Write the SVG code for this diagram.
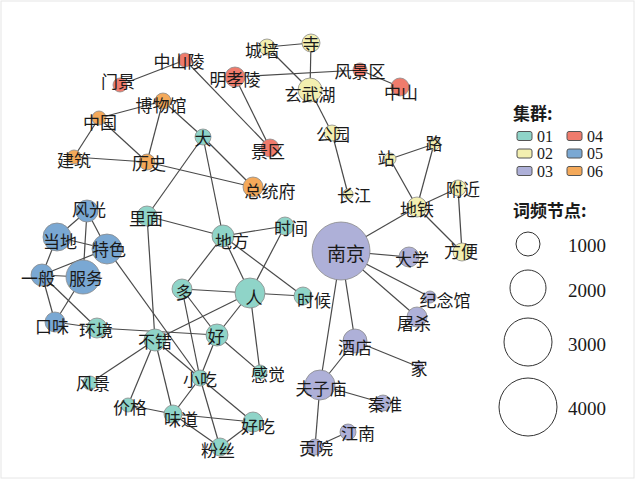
<svg xmlns="http://www.w3.org/2000/svg" width="640" height="480" viewBox="0 0 640 480">
<style>
.e{stroke:#4a4a4a;stroke-width:1.2;fill:none}
circle{stroke:#8a8a8a;stroke-width:0.8}
.c1{fill:#8fd4c8}.c2{fill:#f3efb0}.c3{fill:#aeb0d8}.c4{fill:#ef7b6c}.c5{fill:#7aa8d3}.c6{fill:#f4a95a}
text{font-family:"Noto Sans CJK SC","Noto Sans",sans-serif;font-size:17px;fill:#1a1a1a;text-anchor:middle;dominant-baseline:central}
.lg{text-anchor:start;font-weight:bold}
.num{font-family:"Liberation Serif",serif;font-size:19px;text-anchor:start}
.sn{font-size:16px}
.sw{stroke:#555;stroke-width:1}
.lc{fill:none;stroke:#333;stroke-width:1}
</style>
<rect x="1" y="1" width="633" height="477" fill="#fff" stroke="#e6e6e6"/>
<g id="edges">
<line class="e" x1="120" y1="85" x2="185" y2="60"/>
<line class="e" x1="185" y1="60" x2="270" y2="148"/>
<line class="e" x1="235" y1="77" x2="270" y2="148"/>
<line class="e" x1="235" y1="77" x2="360" y2="70"/>
<line class="e" x1="360" y1="70" x2="400" y2="87"/>
<line class="e" x1="267" y1="47" x2="311" y2="43"/>
<line class="e" x1="311" y1="43" x2="310" y2="90"/>
<line class="e" x1="267" y1="47" x2="310" y2="90"/>
<line class="e" x1="310" y1="90" x2="332" y2="133"/>
<line class="e" x1="332" y1="133" x2="348" y2="194"/>
<line class="e" x1="163" y1="101" x2="99" y2="118"/>
<line class="e" x1="163" y1="101" x2="147" y2="162"/>
<line class="e" x1="163" y1="101" x2="203" y2="137"/>
<line class="e" x1="99" y1="118" x2="74" y2="157"/>
<line class="e" x1="99" y1="118" x2="147" y2="162"/>
<line class="e" x1="74" y1="157" x2="147" y2="162"/>
<line class="e" x1="147" y1="162" x2="253" y2="187"/>
<line class="e" x1="203" y1="137" x2="253" y2="187"/>
<line class="e" x1="203" y1="137" x2="147" y2="216"/>
<line class="e" x1="203" y1="137" x2="223" y2="236"/>
<line class="e" x1="147" y1="216" x2="223" y2="236"/>
<line class="e" x1="147" y1="216" x2="155" y2="340"/>
<line class="e" x1="223" y1="236" x2="285" y2="226"/>
<line class="e" x1="223" y1="236" x2="182" y2="289"/>
<line class="e" x1="223" y1="236" x2="250" y2="293"/>
<line class="e" x1="223" y1="236" x2="303" y2="296"/>
<line class="e" x1="285" y1="226" x2="250" y2="293"/>
<line class="e" x1="250" y1="293" x2="303" y2="296"/>
<line class="e" x1="250" y1="293" x2="182" y2="289"/>
<line class="e" x1="250" y1="293" x2="155" y2="340"/>
<line class="e" x1="250" y1="293" x2="217" y2="335"/>
<line class="e" x1="250" y1="293" x2="260" y2="372"/>
<line class="e" x1="182" y1="289" x2="217" y2="335"/>
<line class="e" x1="182" y1="289" x2="200" y2="378"/>
<line class="e" x1="217" y1="335" x2="200" y2="378"/>
<line class="e" x1="217" y1="335" x2="260" y2="372"/>
<line class="e" x1="55" y1="322" x2="97" y2="328"/>
<line class="e" x1="97" y1="328" x2="217" y2="335"/>
<line class="e" x1="42" y1="275" x2="57" y2="237"/>
<line class="e" x1="42" y1="275" x2="83" y2="277"/>
<line class="e" x1="42" y1="275" x2="107" y2="249"/>
<line class="e" x1="42" y1="275" x2="55" y2="322"/>
<line class="e" x1="42" y1="275" x2="97" y2="328"/>
<line class="e" x1="83" y1="277" x2="55" y2="322"/>
<line class="e" x1="87" y1="211" x2="57" y2="237"/>
<line class="e" x1="87" y1="211" x2="107" y2="249"/>
<line class="e" x1="87" y1="211" x2="83" y2="277"/>
<line class="e" x1="57" y1="237" x2="107" y2="249"/>
<line class="e" x1="107" y1="249" x2="200" y2="378"/>
<line class="e" x1="155" y1="340" x2="90" y2="383"/>
<line class="e" x1="155" y1="340" x2="128" y2="405"/>
<line class="e" x1="155" y1="340" x2="173" y2="414"/>
<line class="e" x1="155" y1="340" x2="200" y2="378"/>
<line class="e" x1="128" y1="405" x2="173" y2="414"/>
<line class="e" x1="173" y1="414" x2="220" y2="447"/>
<line class="e" x1="173" y1="414" x2="253" y2="422"/>
<line class="e" x1="200" y1="378" x2="173" y2="414"/>
<line class="e" x1="200" y1="378" x2="253" y2="422"/>
<line class="e" x1="200" y1="378" x2="220" y2="447"/>
<line class="e" x1="253" y1="422" x2="220" y2="447"/>
<line class="e" x1="341" y1="251" x2="417" y2="207"/>
<line class="e" x1="341" y1="251" x2="409" y2="257"/>
<line class="e" x1="341" y1="251" x2="430" y2="297"/>
<line class="e" x1="341" y1="251" x2="417" y2="317"/>
<line class="e" x1="341" y1="251" x2="355" y2="341"/>
<line class="e" x1="341" y1="251" x2="320" y2="385"/>
<line class="e" x1="417" y1="207" x2="390" y2="159"/>
<line class="e" x1="417" y1="207" x2="434" y2="144"/>
<line class="e" x1="417" y1="207" x2="458" y2="188"/>
<line class="e" x1="417" y1="207" x2="462" y2="252"/>
<line class="e" x1="390" y1="159" x2="434" y2="144"/>
<line class="e" x1="458" y1="188" x2="462" y2="252"/>
<line class="e" x1="355" y1="341" x2="419" y2="367"/>
<line class="e" x1="355" y1="341" x2="320" y2="385"/>
<line class="e" x1="320" y1="385" x2="383" y2="403"/>
<line class="e" x1="320" y1="385" x2="315" y2="447"/>
<line class="e" x1="315" y1="447" x2="348" y2="432"/>
</g>
<g id="n-zhongshanling"><circle class="c4" cx="185" cy="60" r="7"/><text x="179" y="60">中山陵</text></g>
<g id="n-menjing"><circle class="c4" cx="120" cy="85" r="7"/><text x="118" y="80">门景</text></g>
<g id="n-bowuguan"><circle class="c6" cx="163" cy="101" r="8"/><text x="161" y="104">博物馆</text></g>
<g id="n-zhongguo"><circle class="c6" cx="99" cy="118" r="7"/><text x="100" y="121">中国</text></g>
<g id="n-jianzhu"><circle class="c6" cx="74" cy="157" r="7"/><text x="74" y="159">建筑</text></g>
<g id="n-lishi"><circle class="c6" cx="147" cy="162" r="8"/><text x="149" y="162">历史</text></g>
<g id="n-da"><circle class="c1" cx="203" cy="137" r="8"/><text x="203" y="137">大</text></g>
<g id="n-chengqiang"><circle class="c2" cx="267" cy="47" r="8"/><text x="262" y="49">城墙</text></g>
<g id="n-si"><circle class="c2" cx="311" cy="43" r="9"/><text x="311" y="43">寺</text></g>
<g id="n-minxiaoling"><circle class="c4" cx="235" cy="77" r="10"/><text x="235" y="78">明孝陵</text></g>
<g id="n-fengjingqu"><circle class="c4" cx="360" cy="70" r="7"/><text x="360" y="70">风景区</text></g>
<g id="n-zhongshan"><circle class="c4" cx="400" cy="87" r="9"/><text x="401" y="91">中山</text></g>
<g id="n-xuanwuhu"><circle class="c2" cx="310" cy="90" r="12"/><text x="310" y="93">玄武湖</text></g>
<g id="n-gongyuan"><circle class="c2" cx="332" cy="133" r="8"/><text x="333" y="133">公园</text></g>
<g id="n-jingqu"><circle class="c4" cx="270" cy="148" r="9"/><text x="268" y="150">景区</text></g>
<g id="n-changjiang"><circle class="c2" cx="348" cy="194" r="5"/><text x="354" y="194">长江</text></g>
<g id="n-zongtongfu"><circle class="c6" cx="253" cy="187" r="10"/><text x="270" y="190">总统府</text></g>
<g id="n-zhan"><circle class="c2" cx="390" cy="159" r="6"/><text x="386" y="157">站</text></g>
<g id="n-lu"><circle class="c2" cx="434" cy="144" r="6"/><text x="434" y="142">路</text></g>
<g id="n-fujin"><circle class="c2" cx="458" cy="188" r="8"/><text x="463" y="188">附近</text></g>
<g id="n-ditie"><circle class="c2" cx="417" cy="207" r="10"/><text x="417" y="208">地铁</text></g>
<g id="n-fangbian"><circle class="c2" cx="462" cy="252" r="9"/><text x="461" y="250">方便</text></g>
<g id="n-nanjing"><circle class="c3" cx="341" cy="251" r="29"/><text x="346" y="252" style="font-size:19px">南京</text></g>
<g id="n-daxue"><circle class="c3" cx="409" cy="257" r="10"/><text x="412" y="258">大学</text></g>
<g id="n-jinianguan"><circle class="c3" cx="430" cy="297" r="6"/><text x="445" y="299">纪念馆</text></g>
<g id="n-tusha"><circle class="c3" cx="417" cy="317" r="10"/><text x="414" y="322">屠杀</text></g>
<g id="n-jiudian"><circle class="c3" cx="355" cy="341" r="12"/><text x="355" y="346">酒店</text></g>
<g id="n-jia"><circle class="c3" cx="419" cy="366" r="4"/><text x="419" y="367">家</text></g>
<g id="n-fuzimiao"><circle class="c3" cx="320" cy="385" r="15"/><text x="321" y="387">夫子庙</text></g>
<g id="n-qinhuai"><circle class="c3" cx="383" cy="403" r="8"/><text x="385" y="403">秦淮</text></g>
<g id="n-jiangnan"><circle class="c3" cx="348" cy="432" r="8"/><text x="358" y="432">江南</text></g>
<g id="n-gongyuan2"><circle class="c3" cx="315" cy="447" r="8"/><text x="316" y="447">贡院</text></g>
<g id="n-fengguang"><circle class="c5" cx="87" cy="211" r="11"/><text x="89" y="208">风光</text></g>
<g id="n-dangdi"><circle class="c5" cx="57" cy="237" r="14"/><text x="60" y="240">当地</text></g>
<g id="n-tese"><circle class="c5" cx="107" cy="249" r="15"/><text x="109" y="248">特色</text></g>
<g id="n-yiban"><circle class="c5" cx="42" cy="275" r="11"/><text x="38" y="277">一般</text></g>
<g id="n-fuwu"><circle class="c5" cx="83" cy="277" r="17"/><text x="86" y="277">服务</text></g>
<g id="n-kouwei"><circle class="c5" cx="55" cy="322" r="10"/><text x="52" y="325">口味</text></g>
<g id="n-huanjing"><circle class="c1" cx="97" cy="328" r="10"/><text x="96" y="329">环境</text></g>
<g id="n-limian"><circle class="c1" cx="147" cy="216" r="10"/><text x="146" y="217">里面</text></g>
<g id="n-difang"><circle class="c1" cx="223" cy="236" r="11"/><text x="232" y="240">地方</text></g>
<g id="n-shijian"><circle class="c1" cx="285" cy="226" r="9"/><text x="291" y="227">时间</text></g>
<g id="n-duo"><circle class="c1" cx="182" cy="289" r="10"/><text x="184" y="291">多</text></g>
<g id="n-ren"><circle class="c1" cx="250" cy="293" r="15"/><text x="254" y="296">人</text></g>
<g id="n-shihou"><circle class="c1" cx="303" cy="296" r="9"/><text x="314" y="299">时候</text></g>
<g id="n-bucuo"><circle class="c1" cx="155" cy="340" r="11"/><text x="155" y="340">不错</text></g>
<g id="n-hao"><circle class="c1" cx="217" cy="335" r="11"/><text x="216" y="335">好</text></g>
<g id="n-xiaochi"><circle class="c1" cx="200" cy="378" r="8"/><text x="200" y="378">小吃</text></g>
<g id="n-ganjue"><circle class="c1" cx="260" cy="372" r="7"/><text x="268" y="373">感觉</text></g>
<g id="n-fengjing"><circle class="c1" cx="90" cy="383" r="7"/><text x="93" y="382">风景</text></g>
<g id="n-jiage"><circle class="c1" cx="128" cy="405" r="7"/><text x="130" y="406">价格</text></g>
<g id="n-weidao"><circle class="c1" cx="173" cy="414" r="9"/><text x="181" y="418">味道</text></g>
<g id="n-haochi"><circle class="c1" cx="253" cy="422" r="10"/><text x="258" y="425">好吃</text></g>
<g id="n-fensi"><circle class="c1" cx="220" cy="447" r="9"/><text x="218" y="449">粉丝</text></g>
<g id="legend-cluster">
<text class="lg" x="513" y="112">集群:</text>
<rect class="sw c1" x="517" y="131.5" width="15" height="9" rx="2"/>
<text class="num sn" x="537" y="136">01</text>
<rect class="sw c2" x="517" y="149" width="15" height="9" rx="2"/>
<text class="num sn" x="537" y="153.5">02</text>
<rect class="sw c3" x="517" y="166.5" width="15" height="9" rx="2"/>
<text class="num sn" x="537" y="171">03</text>
<rect class="sw c4" x="567" y="131.5" width="15" height="9" rx="2"/>
<text class="num sn" x="587" y="136">04</text>
<rect class="sw c5" x="567" y="149" width="15" height="9" rx="2"/>
<text class="num sn" x="587" y="153.5">05</text>
<rect class="sw c6" x="567" y="166.5" width="15" height="9" rx="2"/>
<text class="num sn" x="587" y="171">06</text>
</g>
<g id="legend-size">
<text class="lg" x="513" y="209">词频节点:</text>
<circle class="lc" cx="528" cy="244" r="12"/>
<text class="num" x="568" y="245">1000</text>
<circle class="lc" cx="528" cy="288" r="18"/>
<text class="num" x="568" y="290">2000</text>
<circle class="lc" cx="528" cy="342" r="24"/>
<text class="num" x="568" y="344">3000</text>
<circle class="lc" cx="528" cy="407" r="29"/>
<text class="num" x="568" y="408">4000</text>
</g>
</svg>
